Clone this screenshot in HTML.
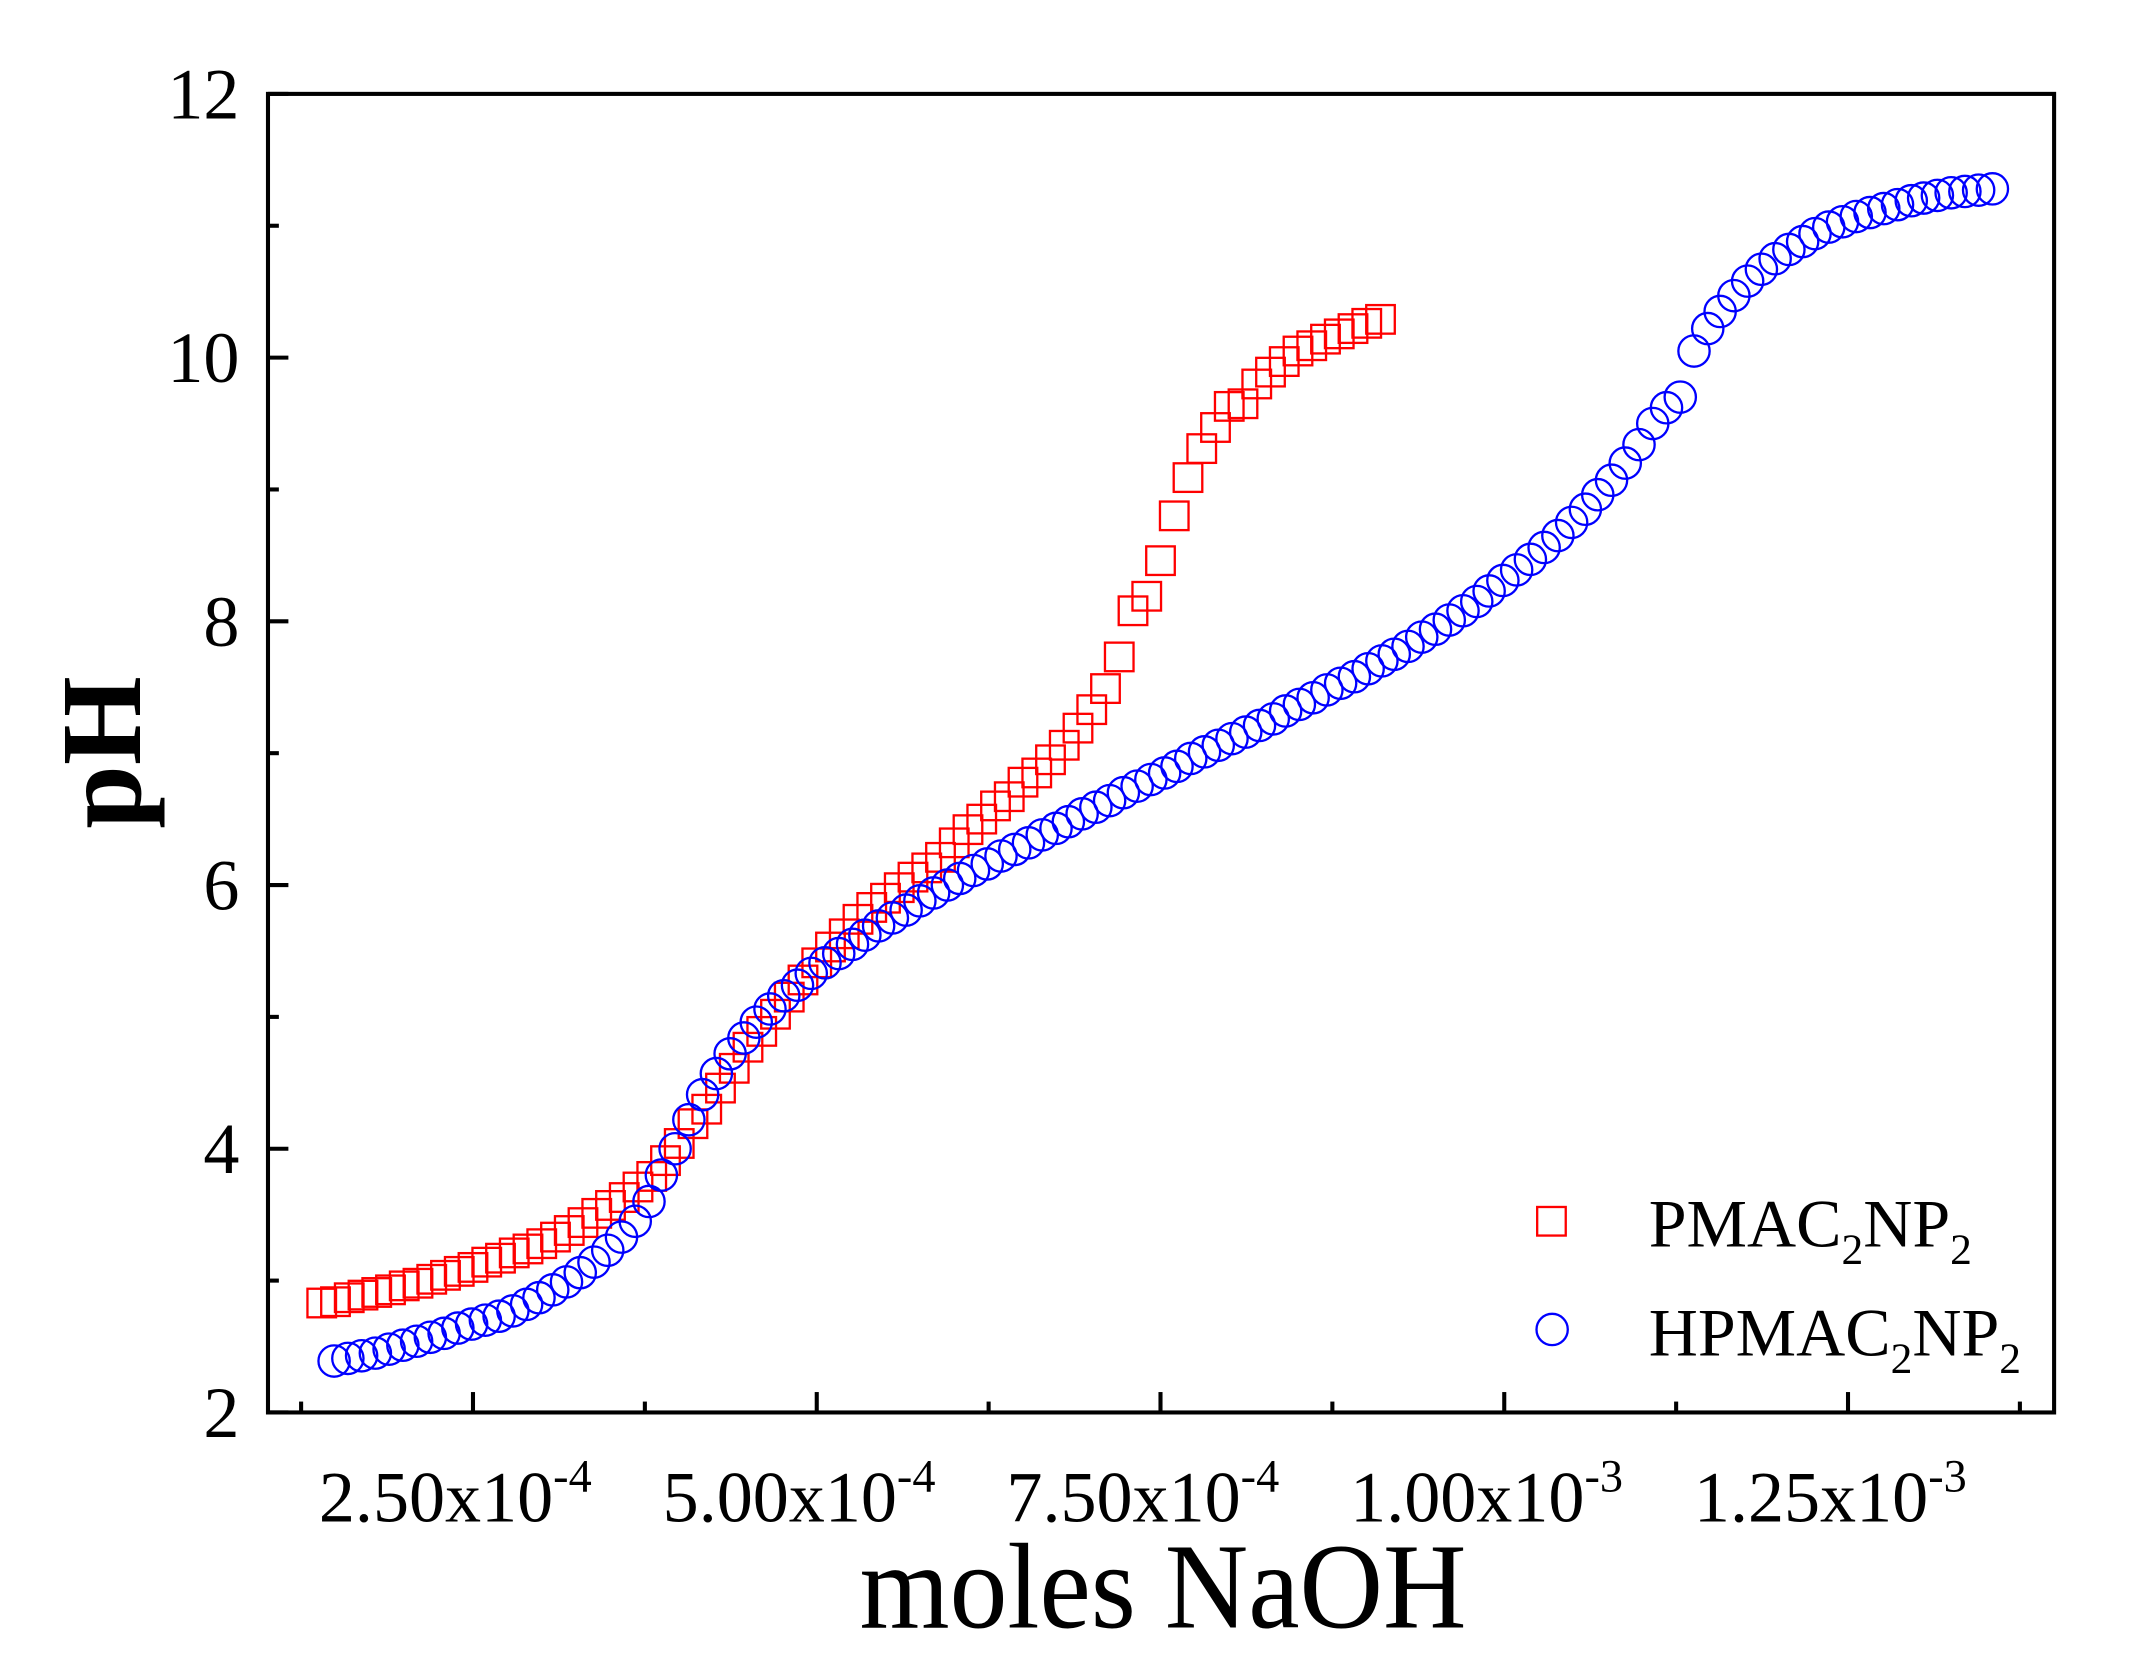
<!DOCTYPE html>
<html><head><meta charset="utf-8"><style>
html,body{margin:0;padding:0;background:#fff;}
svg{display:block;}
text{font-family:"Liberation Serif",serif;fill:#000;}
</style></head><body>
<svg id="chart" width="2133" height="1671" viewBox="0 0 1568 1228" preserveAspectRatio="none" xmlns="http://www.w3.org/2000/svg">
<rect x="0" y="0" width="1568" height="1228" fill="#fff"/>
<g id="marks"></g>
<rect x="197" y="69" width="1313" height="969" fill="none" stroke="#000" stroke-width="3"/>
<g id="axes"></g>
<text x="855" y="1196" font-size="85" text-anchor="middle" transform="translate(855,0) scale(1,1.05) translate(-855,-57)">moles NaOH</text>
<text transform="translate(103,553) rotate(-90)" font-size="84" font-weight="bold" text-anchor="middle">pH</text>
<g>
<rect x="1130" y="887" width="21" height="21" fill="none" stroke="#ff0000" stroke-width="1.7"/>
<text x="1212" y="916" font-size="50">PMAC<tspan font-size="32" dy="13">2</tspan><tspan dy="-13">NP</tspan><tspan font-size="32" dy="13">2</tspan></text>
<circle cx="1141" cy="977" r="11.5" fill="none" stroke="#0000ff" stroke-width="1.7"/>
<text x="1212" y="996" font-size="50">HPMAC<tspan font-size="32" dy="13">2</tspan><tspan dy="-13">NP</tspan><tspan font-size="32" dy="13">2</tspan></text>
</g>
</svg>
<script>
const redX=[1.40,1.50,1.60,1.70,1.80,1.90,2.00,2.10,2.20,2.30,2.40,2.50,2.60,2.70,2.80,2.90,3.00,3.10,3.20,3.30,3.40,3.50,3.60,3.70,3.80,3.90,4.00,4.10,4.20,4.30,4.40,4.50,4.60,4.70,4.80,4.90,5.00,5.10,5.20,5.30,5.40,5.50,5.60,5.70,5.80,5.90,6.00,6.10,6.20,6.30,6.40,6.50,6.60,6.70,6.80,6.90,7.00,7.10,7.20,7.30,7.40,7.50,7.60,7.70,7.80,7.90,8.00,8.10,8.20,8.30,8.40,8.50,8.60,8.70,8.80,8.90,9.00,9.10];
const redPH=[2.83,2.84,2.87,2.89,2.91,2.93,2.96,2.98,3.01,3.04,3.07,3.10,3.14,3.17,3.21,3.24,3.28,3.33,3.38,3.44,3.51,3.57,3.63,3.71,3.79,3.91,4.04,4.19,4.30,4.46,4.61,4.77,4.89,5.02,5.15,5.28,5.41,5.53,5.63,5.74,5.83,5.90,5.98,6.06,6.13,6.21,6.32,6.42,6.50,6.60,6.67,6.78,6.85,6.95,7.06,7.19,7.33,7.49,7.73,8.08,8.19,8.46,8.80,9.09,9.31,9.47,9.63,9.65,9.80,9.89,9.97,10.05,10.09,10.14,10.18,10.22,10.26,10.29];
const blueX=[1.49,1.59,1.69,1.79,1.89,1.99,2.09,2.19,2.29,2.39,2.49,2.59,2.69,2.79,2.89,2.98,3.08,3.18,3.28,3.38,3.48,3.58,3.68,3.78,3.87,3.97,4.07,4.17,4.27,4.37,4.47,4.56,4.66,4.76,4.86,4.96,5.06,5.16,5.26,5.35,5.45,5.55,5.65,5.75,5.85,5.95,6.04,6.14,6.24,6.34,6.44,6.54,6.64,6.74,6.83,6.93,7.03,7.13,7.23,7.33,7.43,7.53,7.62,7.72,7.82,7.92,8.02,8.12,8.22,8.32,8.41,8.51,8.61,8.71,8.81,8.91,9.01,9.11,9.20,9.30,9.40,9.50,9.60,9.70,9.80,9.89,9.99,10.09,10.19,10.29,10.39,10.49,10.59,10.68,10.78,10.88,10.98,11.08,11.18,11.28,11.38,11.48,11.57,11.67,11.77,11.87,11.97,12.07,12.17,12.26,12.36,12.46,12.56,12.66,12.76,12.86,12.96,13.05,13.15,13.25,13.35,13.45,13.55];
const bluePH=[2.39,2.41,2.43,2.45,2.48,2.51,2.54,2.57,2.60,2.64,2.67,2.70,2.73,2.77,2.82,2.87,2.93,2.99,3.06,3.14,3.23,3.33,3.45,3.60,3.80,4.00,4.22,4.41,4.57,4.72,4.84,4.96,5.06,5.16,5.24,5.33,5.41,5.48,5.55,5.62,5.69,5.75,5.81,5.88,5.94,6.00,6.05,6.11,6.16,6.22,6.27,6.32,6.38,6.43,6.48,6.54,6.59,6.64,6.70,6.75,6.80,6.85,6.90,6.96,7.01,7.06,7.11,7.16,7.21,7.26,7.32,7.37,7.42,7.48,7.53,7.58,7.64,7.70,7.75,7.81,7.88,7.94,8.01,8.08,8.15,8.23,8.31,8.39,8.47,8.56,8.65,8.75,8.85,8.96,9.07,9.20,9.34,9.50,9.62,9.70,10.05,10.22,10.35,10.47,10.58,10.67,10.75,10.82,10.88,10.94,10.99,11.03,11.07,11.10,11.13,11.16,11.19,11.21,11.23,11.25,11.26,11.27,11.28];
const xTickVals=[2.5,5.0,7.5,10.0,12.5];
const xTickMant=["2.50","5.00","7.50","1.00","1.25"];
const xTickExp=["-4","-4","-4","-3","-3"];
const yTickVals=[2,4,6,8,10,12];

const NS="http://www.w3.org/2000/svg";
function sx(v){return 95+v*101.08;}
function sy(v){return 69+(12-v)*96.9;}
function mk(tag,attrs,parent){const e=document.createElementNS(NS,tag);for(const k in attrs)e.setAttribute(k,attrs[k]);parent.appendChild(e);return e;}
const marks=document.getElementById('marks');
const axes=document.getElementById('axes');

for(let i=0;i<Math.min(redX.length,redPH.length);i++){
  const s=21;
  const r=mk('rect',{x:sx(redX[i])-s/2,y:sy(redPH[i])-s/2,width:s,height:s,fill:'none',stroke:'#ff0000','stroke-width':1.7},marks);
  
  
}
for(let i=0;i<Math.min(blueX.length,bluePH.length);i++){
  const c=mk('circle',{cx:sx(blueX[i]),cy:sy(bluePH[i]),r:11.5,fill:'none',stroke:'#0000ff','stroke-width':1.7},marks);
  
  
}
for(let v=2;v<=12;v++){
  const major=(v%2===0);
  const t=mk('line',{x1:197,x2:197+(major?15:8),y1:sy(v),y2:sy(v),stroke:'#000','stroke-width':3},axes);
  
  
}
yTickVals.forEach(v=>{
  const t=mk('text',{x:176,y:sy(v)+18,'font-size':53,'text-anchor':'end'},axes);
  t.textContent=String(v);
  
  
});
for(let k=1;k<=11;k++){
  const v=k*1.25;
  const major=(k%2===0);
  const t=mk('line',{x1:sx(v),x2:sx(v),y1:1038,y2:1038-(major?15:8),stroke:'#000','stroke-width':3},axes);
  
  
}
xTickVals.forEach((v,i)=>{
  const t=mk('text',{x:sx(v)-13,y:1118,'font-size':53,'text-anchor':'middle'},axes);
  t.textContent=xTickMant[i]+'x10';
  const sp=mk('tspan',{'font-size':34,dy:-22},t);
  sp.textContent=xTickExp[i];
  
  
});
</script>
</body></html>
